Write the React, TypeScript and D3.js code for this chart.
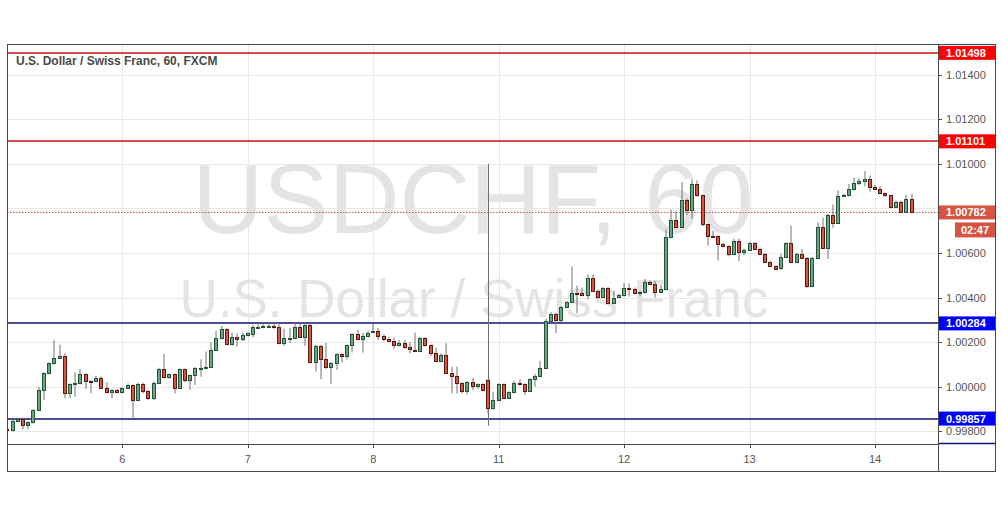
import * as d3 from "d3";

// hourly bars: open, high, low, close
const CANDLES: [number, number, number, number][] = [
  [0.99812, 0.9982, 0.998, 0.99806],
  [0.99805, 0.9985, 0.998, 0.99844],
  [0.99846, 0.99862, 0.9984, 0.99856],
  [0.99856, 0.9986, 0.9981, 0.99826],
  [0.99826, 0.99845, 0.9981, 0.9984],
  [0.9984, 0.999, 0.99835, 0.99895],
  [0.99895, 0.99997, 0.9989, 0.99984],
  [0.99984, 1.00065, 0.9994, 1.0006],
  [1.0006, 1.0011, 1.00055, 1.00105],
  [1.00105, 1.0021, 1.001, 1.00128],
  [1.00128, 1.00188, 1.00125, 1.00138],
  [1.00138, 1.0015, 0.99948, 0.9997],
  [0.9997, 1.00015, 0.99948, 1.00012],
  [1.00011, 1.00065, 0.99955, 1.00015],
  [1.00015, 1.0008, 1.0001, 1.00056],
  [1.00056, 1.0006, 0.9999, 1.00027],
  [1.00027, 1.0003, 0.9997, 1.00025],
  [1.00026, 1.00048, 1.0002, 1.00038],
  [1.00038, 1.00045, 0.9999, 0.99993],
  [0.99993, 1.0002, 0.9997, 0.99975],
  [0.99975, 0.9999, 0.99948, 0.99984],
  [0.99984, 0.9999, 0.9997, 0.99976],
  [0.99976, 0.99998, 0.9997, 0.99993],
  [0.99993, 1.00015, 0.9999, 1.00006],
  [1.00006, 1.0001, 0.99858, 0.99941],
  [0.99941, 1.00018, 0.99935, 1.00012],
  [1.00012, 1.00018, 0.9997, 0.99979],
  [0.99979, 0.99985, 0.9994, 0.99948],
  [0.99948, 1.00025, 0.9994, 1.00018],
  [1.00018, 1.00085, 1.00012, 1.0008],
  [1.0008, 1.00147, 1.0004, 1.00044],
  [1.00045, 1.0006, 1.00035, 1.00056],
  [1.00056, 1.0006, 0.9997, 0.99993],
  [0.99993, 1.00082, 0.9999, 1.00078],
  [1.00078, 1.00082, 1.0002, 1.00029],
  [1.00029, 1.00055, 0.99985, 1.00051],
  [1.00051, 1.00088, 1.00008, 1.00083],
  [1.00083, 1.00123, 1.00045, 1.00085],
  [1.00085, 1.00158, 1.0008, 1.00089],
  [1.0009, 1.00198, 1.00085, 1.00165],
  [1.00165, 1.0025, 1.0016, 1.00218],
  [1.00218, 1.00273, 1.00212, 1.00258],
  [1.00258, 1.00262, 1.00185, 1.00191],
  [1.00191, 1.00243, 1.00185, 1.00221],
  [1.00221, 1.0024, 1.0018, 1.00213],
  [1.00213, 1.00243, 1.00205, 1.00233],
  [1.00231, 1.00246, 1.00225, 1.0024],
  [1.00236, 1.00278, 1.00222, 1.00267],
  [1.00268, 1.0028, 1.00262, 1.0027],
  [1.0027, 1.0028, 1.00262, 1.00271],
  [1.00268, 1.00288, 1.00262, 1.00272],
  [1.00272, 1.00288, 1.0026, 1.00266],
  [1.00267, 1.00288, 1.0019, 1.00195],
  [1.00195, 1.0026, 1.00183, 1.00218],
  [1.00218, 1.00262, 1.00196, 1.0022],
  [1.00218, 1.00288, 1.00213, 1.00267],
  [1.00267, 1.00285, 1.0022, 1.00225],
  [1.00225, 1.00288, 1.00183, 1.00278],
  [1.00278, 1.00285, 1.00105, 1.0011],
  [1.0011, 1.00188, 1.00068, 1.00183],
  [1.00183, 1.00188, 1.00033, 1.00123],
  [1.00123, 1.00197, 1.0008, 1.00087],
  [1.00087, 1.0011, 1.00012, 1.00105],
  [1.00105, 1.0015, 1.00075, 1.00146],
  [1.00146, 1.0015, 1.00108, 1.00138],
  [1.00138, 1.0019, 1.00123, 1.00185],
  [1.00185, 1.0024, 1.00153, 1.00236],
  [1.00236, 1.00255, 1.0021, 1.00213],
  [1.00213, 1.00242, 1.00153, 1.00228],
  [1.00228, 1.0025, 1.00222, 1.00243],
  [1.00245, 1.00285, 1.0024, 1.00248],
  [1.00248, 1.00263, 1.0021, 1.00228],
  [1.00228, 1.00235, 1.00205, 1.00215],
  [1.00213, 1.0022, 1.002, 1.00206],
  [1.00206, 1.0022, 1.0017, 1.00186],
  [1.00186, 1.0021, 1.0018, 1.00198],
  [1.00198, 1.0021, 1.0017, 1.00176],
  [1.00176, 1.002, 1.0015, 1.00168],
  [1.00166, 1.00243, 1.0016, 1.00164],
  [1.00162, 1.00222, 1.00155, 1.00218],
  [1.00218, 1.00222, 1.0018, 1.00185],
  [1.00185, 1.0019, 1.00138, 1.0015],
  [1.0015, 1.00175, 1.00112, 1.00117],
  [1.00117, 1.0015, 1.0011, 1.00143],
  [1.00143, 1.00195, 1.00058, 1.00063],
  [1.00063, 1.0009, 0.9997, 1.00048],
  [1.00048, 1.0009, 0.9997, 1.00015],
  [1.00015, 1.0002, 0.9997, 0.9998],
  [0.9998, 1.00025, 0.99965, 1.0002],
  [1.0002, 1.0004, 0.99985, 1.00003],
  [1.00003, 1.00015, 0.9999, 1.00011],
  [1.00011, 1.00015, 0.9998, 0.99984],
  [1.00029, 1.00035, 0.9988, 0.99903],
  [0.99903, 0.99978, 0.99898, 0.9994],
  [0.9994, 1.00015, 0.99935, 1.00011],
  [1.00011, 1.00015, 0.99945, 0.99948],
  [0.99948, 0.9998, 0.99945, 0.99975],
  [0.99975, 1.00027, 0.9997, 1.00015],
  [1.00015, 1.00033, 1.00005, 1.00011],
  [1.00011, 1.00015, 0.99963, 0.99981],
  [0.99981, 1.00038, 0.99978, 1.00033],
  [1.00033, 1.00058, 1.0, 1.00048],
  [1.00048, 1.00116, 1.00045, 1.00083],
  [1.00083, 1.00305, 1.0008, 1.00296],
  [1.00296, 1.00335, 1.00282, 1.00327],
  [1.00327, 1.00332, 1.0024, 1.00299],
  [1.00299, 1.00362, 1.0029, 1.00357],
  [1.00357, 1.00385, 1.00352, 1.0038],
  [1.0038, 1.0054, 1.00375, 1.0042],
  [1.0042, 1.00453, 1.0033, 1.00414],
  [1.0042, 1.00445, 1.00405, 1.0041],
  [1.0041, 1.00503, 1.00393, 1.00488],
  [1.00488, 1.00503, 1.00425, 1.00431],
  [1.00431, 1.00435, 1.00395, 1.00402],
  [1.00402, 1.00447, 1.00398, 1.00443],
  [1.00443, 1.00447, 1.0037, 1.00375],
  [1.00375, 1.0043, 1.0037, 1.004],
  [1.00402, 1.00418, 1.00398, 1.00411],
  [1.00411, 1.00465, 1.00405, 1.00443],
  [1.00443, 1.00462, 1.00405, 1.0044],
  [1.0044, 1.00445, 1.00415, 1.0042],
  [1.0042, 1.0043, 1.00405, 1.00426],
  [1.00424, 1.00484, 1.00418, 1.0047],
  [1.0047, 1.00476, 1.00455, 1.00461],
  [1.00461, 1.00475, 1.004, 1.00424],
  [1.00424, 1.00458, 1.0042, 1.00438],
  [1.00438, 1.00705, 1.00432, 1.00671],
  [1.00671, 1.00795, 1.00665, 1.00746],
  [1.00746, 1.00788, 1.00712, 1.00717],
  [1.00717, 1.00918, 1.00712, 1.0084],
  [1.0084, 1.00845, 1.0077, 1.00795],
  [1.00795, 1.00933, 1.00753, 1.00911],
  [1.00911, 1.00926, 1.00853, 1.00858],
  [1.00858, 1.00862, 1.0072, 1.00728],
  [1.00728, 1.00732, 1.00633, 1.00678],
  [1.00678, 1.007, 1.0067, 1.00675],
  [1.00675, 1.0068, 1.00566, 1.00642],
  [1.00642, 1.00646, 1.00625, 1.0063],
  [1.0063, 1.00635, 1.00585, 1.00596],
  [1.00596, 1.00662, 1.0059, 1.00656],
  [1.00656, 1.00665, 1.00563, 1.00603],
  [1.00605, 1.0062, 1.0059, 1.00614],
  [1.00614, 1.0065, 1.0061, 1.00645],
  [1.00645, 1.0065, 1.00615, 1.0062],
  [1.0062, 1.00625, 1.0059, 1.00597],
  [1.00596, 1.006, 1.00555, 1.0056],
  [1.0056, 1.00565, 1.00535, 1.0054],
  [1.0054, 1.00545, 1.00522, 1.0053],
  [1.00533, 1.00596, 1.00524, 1.00582],
  [1.00582, 1.0065, 1.00578, 1.00645],
  [1.00645, 1.00723, 1.00555, 1.0056],
  [1.0056, 1.00602, 1.00555, 1.00597],
  [1.00597, 1.00618, 1.00573, 1.00578],
  [1.00578, 1.00582, 1.00443, 1.00453],
  [1.00453, 1.00582, 1.00448, 1.00578],
  [1.00578, 1.00738, 1.00572, 1.00717],
  [1.00717, 1.00758, 1.00618, 1.00623],
  [1.00623, 1.00775, 1.00573, 1.0077],
  [1.0077, 1.00818, 1.00713, 1.00735],
  [1.00735, 1.00881, 1.0073, 1.00855],
  [1.00855, 1.00866, 1.0085, 1.00862],
  [1.00859, 1.0091, 1.00853, 1.00888],
  [1.00888, 1.00938, 1.0088, 1.00915],
  [1.00915, 1.00935, 1.00905, 1.00925],
  [1.00925, 1.00968, 1.009, 1.00934],
  [1.00934, 1.00948, 1.00875, 1.00896],
  [1.00898, 1.00905, 1.00882, 1.00888],
  [1.00888, 1.009, 1.00862, 1.00867],
  [1.00867, 1.0087, 1.00852, 1.00858],
  [1.00858, 1.00862, 1.00802, 1.00807],
  [1.00807, 1.00835, 1.00802, 1.0083],
  [1.0083, 1.00835, 1.0078, 1.00785],
  [1.00785, 1.00862, 1.0078, 1.00843],
  [1.00843, 1.00865, 1.00778, 1.00782],
];

const DAY_LABELS = ["6", "7", "8", "11", "12", "13", "14"];
const DAY_BARS = [22, 46, 70, 94, 118, 142, 166];
const PRICE_TICKS = [0.998, 1.0, 1.002, 1.004, 1.006, 1.008, 1.01, 1.012, 1.014];
const RED_LEVELS = [1.01498, 1.01101];
const BLUE_LEVELS = [1.00284, 0.99857];
const LAST_PRICE = 1.00782;
const COUNTDOWN = "02:47";
const MARKER_BAR = 92;
const MARKER_RANGE = [1.01, 0.99825];

const FONT = "'Liberation Sans', Arial, sans-serif";
const UP = "#6ba583";
const UP_BORDER = "#225437";
const DOWN = "#d75442";
const DOWN_BORDER = "#5b1a13";
const WICK = "#737375";
const RED_LINE = "#d01010";
const BLUE_LINE = "#101078";

export default function App() {
  const left = 7;
  const top = 44;
  const plotRight = 938;
  const plotBottom = 444;
  const right = 995;
  const bottom = 471;

  const x = d3.scaleLinear().domain([22, 166]).range([122.3, 875]);
  const y = d3.scaleLinear().domain([1.0, 1.014]).range([386.7, 74.7]);
  const fmt = d3.format(".5f");
  const py = (p: number) => Math.round(y(p)) + 0.5;

  const labelYs = [...RED_LEVELS, ...BLUE_LEVELS, LAST_PRICE].map((p) => y(p));
  const visibleTicks = PRICE_TICKS.filter((p) => labelYs.every((ly) => Math.abs(ly - y(p)) > 8));

  const bodyW = 4;

  return (
    <svg
      width={1002}
      height={508}
      style={{ position: "absolute", left: 0, top: 0, background: "#fff" }}
      fontFamily={FONT}
    >
      <defs>
        <clipPath id="plot">
          <rect x={left} y={top} width={plotRight - left} height={plotBottom - top} />
        </clipPath>
      </defs>
      <rect x={0} y={0} width={1002} height={508} fill="#fff" />

      {/* grid */}
      <g stroke="#e8e8e8" strokeWidth={1}>
        {PRICE_TICKS.map((p) => (
          <line key={p} x1={left} x2={plotRight} y1={py(p)} y2={py(p)} />
        ))}
        {DAY_BARS.map((b) => (
          <line key={b} x1={Math.round(x(b)) + 0.5} x2={Math.round(x(b)) + 0.5} y1={top} y2={plotBottom} />
        ))}
      </g>

      {/* watermark */}
      <g fill="#e4e4e4" textAnchor="middle">
        <text x={473} y={233} fontSize={98}>
          USDCHF, 60
        </text>
        <text x={474} y={317} fontSize={53}>
          U.S. Dollar / Swiss Franc
        </text>
      </g>

      <g clipPath="url(#plot)">
        {/* horizontal levels */}
        {RED_LEVELS.map((p) => (
          <line key={p} x1={left} x2={plotRight} y1={Math.round(y(p))} y2={Math.round(y(p))} stroke={RED_LINE} strokeWidth={1.4} />
        ))}
        {BLUE_LEVELS.map((p) => (
          <line key={p} x1={left} x2={plotRight} y1={Math.round(y(p))} y2={Math.round(y(p))} stroke={BLUE_LINE} strokeWidth={1.4} />
        ))}
        <line
          x1={left}
          x2={plotRight}
          y1={py(LAST_PRICE)}
          y2={py(LAST_PRICE)}
          stroke="#d75442"
          strokeDasharray="1.5,1.5"
        />
        <line
          x1={Math.round(x(MARKER_BAR)) + 0.5}
          x2={Math.round(x(MARKER_BAR)) + 0.5}
          y1={y(MARKER_RANGE[0])}
          y2={y(MARKER_RANGE[1])}
          stroke="#6e6e6e"
        />

        {/* candles */}
        {CANDLES.map(([o, h, l, c], i) => {
          const cx = x(i);
          const bl = Math.round(cx - bodyW / 2);
          const up = c >= o;
          const yTop = Math.round(y(Math.max(o, c)));
          const yBot = Math.round(y(Math.min(o, c)));
          const hgt = Math.max(1, yBot - yTop);
          return (
            <g key={i}>
              <line x1={bl + 2} x2={bl + 2} y1={y(h)} y2={y(l)} stroke={WICK} strokeWidth={1} />
              <rect
                x={bl + 0.5}
                y={yTop + 0.5}
                width={bodyW - 1}
                height={hgt}
                fill={up ? UP : DOWN}
                stroke={up ? UP_BORDER : DOWN_BORDER}
                strokeWidth={1}
              />
            </g>
          );
        })}
      </g>

      {/* frame */}
      <g stroke="#4a4a4a" strokeWidth={1} fill="none">
        <rect x={left + 0.5} y={top + 0.5} width={right - left} height={bottom - top} />
        <line x1={left} x2={plotRight} y1={plotBottom + 0.5} y2={plotBottom + 0.5} />
        <line x1={plotRight + 0.5} x2={plotRight + 0.5} y1={top} y2={bottom} />
      </g>
      <line x1={plotRight + 1} x2={right} y1={plotBottom - 0.5} y2={plotBottom - 0.5} stroke={BLUE_LINE} strokeWidth={1.5} />

      {/* title */}
      <text x={16} y={65} fontSize={12} fontWeight="bold" fill="#4a4a4a">
        U.S. Dollar / Swiss Franc, 60, FXCM
      </text>

      {/* x axis */}
      <g fontSize={11} fill="#555" textAnchor="middle">
        {DAY_BARS.map((b, i) => (
          <g key={b}>
            <line x1={Math.round(x(b)) + 0.5} x2={Math.round(x(b)) + 0.5} y1={plotBottom} y2={plotBottom + 4} stroke="#4a4a4a" />
            <text x={x(b)} y={463}>
              {DAY_LABELS[i]}
            </text>
          </g>
        ))}
      </g>

      {/* y axis */}
      <g fontSize={11} fill="#555">
        {visibleTicks.map((p) => (
          <g key={p}>
            <line x1={plotRight} x2={plotRight + 4} y1={py(p)} y2={py(p)} stroke="#4a4a4a" />
            <text x={946} y={y(p) + 4}>
              {fmt(p)}
            </text>
          </g>
        ))}
      </g>

      {/* level labels */}
      {[
        ...RED_LEVELS.map((p) => ({ p, fill: "#ff0000" })),
        ...BLUE_LEVELS.map((p) => ({ p, fill: "#0000ff" })),
        { p: LAST_PRICE, fill: "#d75442" },
      ].map(({ p, fill }) => (
        <g key={p}>
          <rect x={plotRight + 1} y={y(p) - 7} width={right - plotRight - 1} height={14} fill={fill} />
          <text x={946} y={y(p) + 4} fontSize={11} fontWeight="bold" fill="#fff">
            {fmt(p)}
          </text>
        </g>
      ))}
      <rect x={955} y={y(LAST_PRICE) + 10} width={right - 955} height={15} fill="#d75442" />
      <text x={975} y={y(LAST_PRICE) + 21.5} fontSize={11} fontWeight="bold" fill="#fff" textAnchor="middle">
        {COUNTDOWN}
      </text>
    </svg>
  );
}
